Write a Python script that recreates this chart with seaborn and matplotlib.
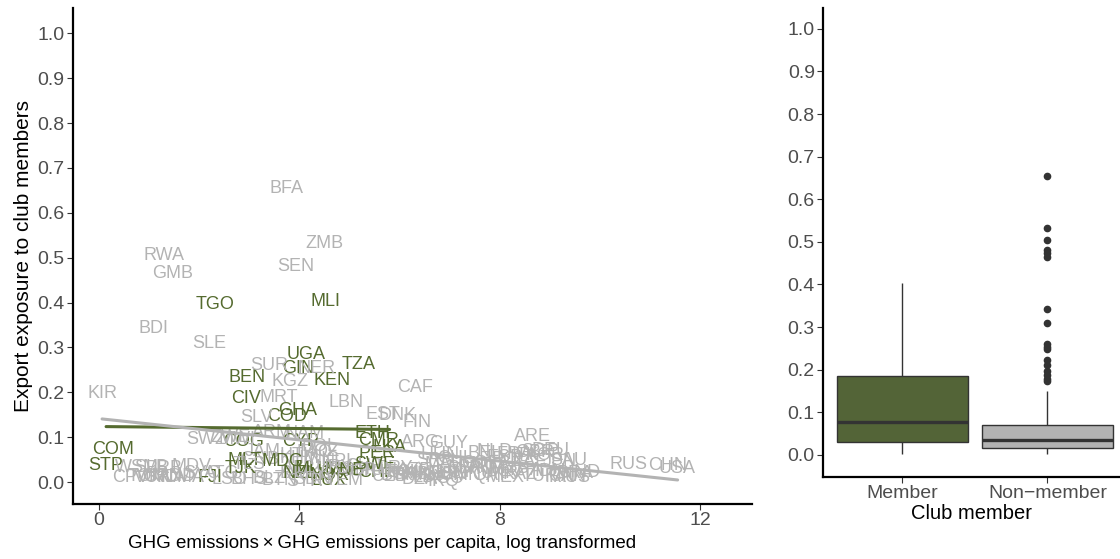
import numpy as np
import pandas as pd
import matplotlib
matplotlib.use("Agg")
import matplotlib.pyplot as plt
import seaborn as sns

# ---------------- data ----------------
member_codes = ["STP", "COM", "TGO", "BEN", "CIV", "FJI", "MLI", "UGA", "GIN", "TZA",
                "KEN", "GHA", "COD", "COG", "CYP", "ETH", "CMR", "PER", "SWE", "CHE",
                "MLT", "TJK", "MDG", "LUX", "LKA", "NOR", "NZL", "MNE", "MUS"]
member_ghg = [0.14, 0.28, 2.32, 2.95, 2.93, 2.22, 4.53, 4.13, 3.97, 5.19,
              4.66, 3.97, 3.76, 2.89, 4.03, 5.46, 5.57, 5.55, 5.50, 5.54,
              2.91, 2.83, 3.66, 4.60, 5.80, 4.60, 4.00, 4.90, 4.30]
member_exposure = [0.036, 0.073, 0.396, 0.233, 0.185, 0.010, 0.403, 0.285, 0.254, 0.261,
                   0.227, 0.160, 0.145, 0.090, 0.090, 0.107, 0.092, 0.064, 0.038, 0.022,
                   0.049, 0.029, 0.045, 0.003, 0.077, 0.015, 0.018, 0.025, 0.027]

nonmember_codes = [
    # high exposure
    "BFA", "ZMB", "RWA", "SEN", "SOM", "GMB", "BDI", "SLE", "SUR", "NER", "ERI", "KGZ",
    "CAF", "KIR", "MRT", "LBN", "LBR",
    "EST", "DNK", "SLV", "FIN", "ARM", "NAM", "ARE", "ZWE", "MWI", "SWZ", "ARG", "GUY", "BOL",
    "DEU", "CUB", "GAB",
    # 0.035 - 0.071
    "TLS", "GNB", "JAM", "HTI", "KHM", "LAO", "MOZ", "NIC", "NPL", "MAR", "SRB", "HUN",
    "CHL", "COL", "NGA", "NLD", "BEL", "ESP", "POL", "FRA", "ITA", "ZAF", "GBR", "SGP",
    "KOR", "JPN", "SAU", "RUS", "CHN",
    # 0.017 - 0.035
    "WSM", "SLB", "BRB", "MDV", "SYC", "ATG", "BIH", "MKD", "ALB", "URY", "DOM", "JOR",
    "TUN", "PRY", "ECU", "AZE", "MNG", "PHL", "EGY", "BLR", "PAK", "VNM", "UKR", "MYS",
    "THA", "IDN", "BRA", "IND", "USA",
    # below 0.017
    "CPV", "TON", "VUT", "GRD", "KNA", "AND", "DMA", "LSO", "BHS", "BLZ", "BTN", "SYR",
    "SDN", "YEM", "UZB", "TKM", "DZA", "BHR", "LBY", "IRQ", "AGO", "VEN", "OMN", "QAT",
    "MEX", "KAZ", "TUR", "IRN", "CAN", "AUS"]
nonmember_ghg = [
    3.75, 4.49, 1.30, 3.93, np.nan, 1.46, 1.08, 2.20, 3.39, 4.35, np.nan, 3.81,
    6.31, 0.06, 3.59, 4.94, np.nan,
    5.66, 5.96, 3.15, 6.34, 3.45, 4.11, 8.65, 2.62, 2.75, 2.15, 6.41, 6.97, 4.40,
    9.02, 5.30, 6.20,
    3.00, 3.20, 3.27, 3.90, 4.00, 4.30, 4.40, 4.50, 4.80, 6.90, 6.70, 6.80,
    7.10, 7.60, 7.80, 7.90, 7.70, 8.10, 8.20, 8.30, 8.50, 8.60, 8.70, 8.80,
    8.90, 9.20, 9.38, 10.56, 11.35,
    0.75, 1.05, 1.30, 1.85, 2.05, 2.45, 3.90, 4.30, 4.00, 4.70, 5.00, 5.20,
    5.60, 5.90, 6.10, 6.30, 6.50, 6.90, 7.10, 7.30, 7.50, 7.70, 8.00, 8.20,
    8.50, 9.00, 9.50, 9.70, 11.55,
    0.62, 0.95, 1.05, 1.25, 1.35, 1.55, 1.70, 2.60, 3.00, 3.40, 3.60, 4.10,
    4.25, 4.90, 5.80, 6.20, 6.40, 6.00, 6.60, 6.87, 6.90, 7.00, 7.20, 7.80,
    8.10, 8.40, 8.80, 9.20, 9.35, 9.45]
nonmember_exposure = [
    0.655, 0.532, 0.505, 0.481, 0.475, 0.464, 0.342, 0.309, 0.260, 0.254, 0.248, 0.223,
    0.211, 0.198, 0.188, 0.178, 0.174,
    0.150, 0.149, 0.143, 0.132, 0.110, 0.109, 0.101, 0.100, 0.095, 0.094, 0.087, 0.085, 0.080,
    0.071, 0.035, 0.017,
    0.040, 0.050, 0.068, 0.060, 0.052, 0.065, 0.068, 0.050, 0.045, 0.040, 0.048, 0.062,
    0.052, 0.042, 0.040, 0.068, 0.064, 0.055, 0.050, 0.062, 0.058, 0.045, 0.065, 0.069,
    0.060, 0.045, 0.049, 0.038, 0.036,
    0.033, 0.032, 0.030, 0.034, 0.020, 0.018, 0.018, 0.020, 0.030, 0.032, 0.028, 0.024,
    0.026, 0.030, 0.022, 0.025, 0.020, 0.019, 0.022, 0.030, 0.033, 0.028, 0.020, 0.030,
    0.025, 0.024, 0.020, 0.022, 0.031,
    0.010, 0.012, 0.009, 0.013, 0.011, 0.012, 0.010, 0.006, 0.005, 0.008, 0.004, 0.002,
    0.005, 0.004, 0.012, 0.014, 0.006, 0.015, 0.011, 0.002, 0.008, 0.016, 0.014, 0.015,
    0.010, 0.016, 0.012, 0.010, 0.013, 0.009]

group_labels = ["Member", "Non\u2212member"]
x_ticks = [0, 4, 8, 12]
y_ticks = [0.0, 0.1, 0.2, 0.3, 0.4, 0.5, 0.6, 0.7, 0.8, 0.9, 1.0]

# ---------------- style ----------------
GREEN = "#556B2F"
GREY = "#B3B3B3"
sns.set_theme(style="ticks")
plt.rcParams["font.family"] = ["Liberation Sans", "DejaVu Sans"]

df = pd.DataFrame({
    "code": member_codes + nonmember_codes,
    "ghg": member_ghg + nonmember_ghg,
    "exposure": member_exposure + nonmember_exposure,
    "club": [group_labels[0]] * len(member_codes) + [group_labels[1]] * len(nonmember_codes),
})
palette = {group_labels[0]: GREEN, group_labels[1]: GREY}

fig = plt.figure(figsize=(11.2, 5.59), dpi=100)
ax = fig.add_axes([0.0652, 0.0984, 0.606, 0.887])
ax2 = fig.add_axes([0.735, 0.1467, 0.265, 0.839])

# ---- left: text scatter ----
for _, r in df.sort_values("code").iterrows():
    if np.isnan(r["ghg"]):
        continue
    ax.text(r["ghg"], r["exposure"], r["code"], color=palette[r["club"]],
            fontsize=13, ha="center", va="center", zorder=2)

for grp in group_labels:
    sub = df[df["club"] == grp]
    sns.regplot(data=sub, x="ghg", y="exposure", scatter=False, ci=None,
                color=palette[grp], line_kws={"lw": 2.2, "zorder": 3}, ax=ax)

ax.set_xlim(-0.52, 13.03)
ax.set_ylim(-0.049, 1.056)
ax.set_xticks(x_ticks)
ax.set_yticks(y_ticks)
ax.set_yticklabels([f"{v:.1f}" for v in y_ticks])
ax.set_xlabel("GHG emissions\u2009\u00d7\u2009GHG emissions per capita, log transformed",
              fontsize=13.5, color="black")
ax.xaxis.set_label_coords(0.455, -0.062)
ax.set_ylabel("Export exposure to club members", fontsize=15, color="black", labelpad=3)

# ---- right: boxplot ----
sns.boxplot(data=df, x="club", y="exposure", hue="club", order=group_labels,
            hue_order=group_labels, palette=palette, legend=False, width=0.9,
            linecolor="#333333", linewidth=1.0, fliersize=4.5, showcaps=False,
            flierprops=dict(marker="o", markerfacecolor="#333333", markeredgecolor="#333333"),
            medianprops=dict(lw=2.4, color="#333333"), ax=ax2)
ax2.set_xlim(-0.545, 1.5)
ax2.set_ylim(-0.052, 1.049)
ax2.set_yticks(y_ticks)
ax2.set_yticklabels([f"{v:.1f}" for v in y_ticks])
ax2.set_xlabel("Club member", fontsize=14.5, color="black", labelpad=1)
ax2.set_ylabel("")

for a in (ax, ax2):
    for s in ("top", "right"):
        a.spines[s].set_visible(False)
    for s in ("left", "bottom"):
        a.spines[s].set_linewidth(1.6)
        a.spines[s].set_color("black")
    a.tick_params(axis="both", which="major", labelsize=14, labelcolor="#4D4D4D",
                  color="#333333", length=4, width=0.8, pad=2)
    a.grid(False)
    a.set_facecolor("white")

fig.savefig("out.png", dpi=100, facecolor="white")
